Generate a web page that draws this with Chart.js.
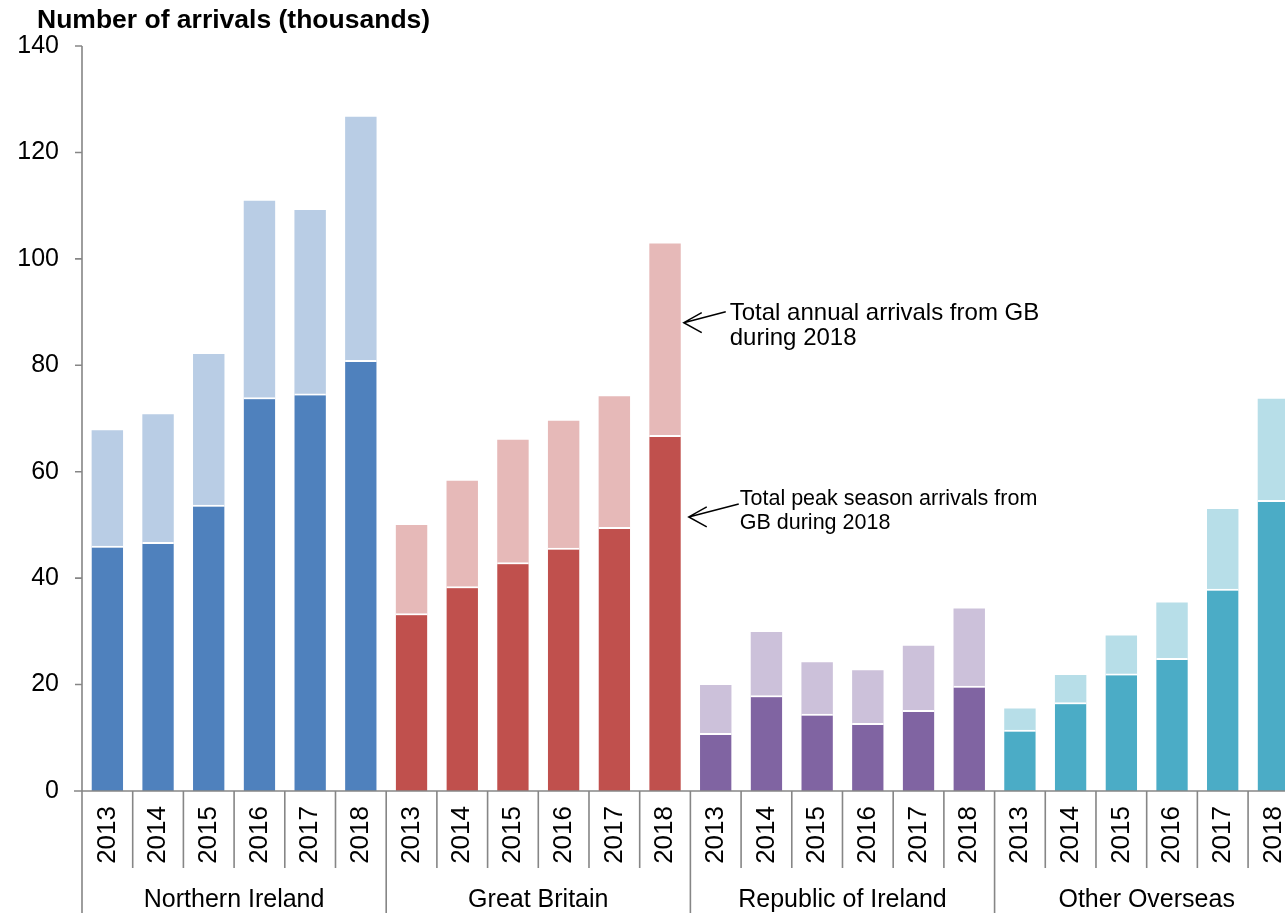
<!DOCTYPE html>
<html>
<head>
<meta charset="utf-8">
<title>Number of arrivals</title>
<script src="https://cdn.jsdelivr.net/npm/chart.js@4"></script>
<style>
  html, body { margin: 0; padding: 0; background: #fff; overflow: hidden; }
  canvas { display: block; }
</style>
</head>
<body>
<canvas id="grafico" width="1320" height="913"></canvas>
<script>
// 1. Datos (miles de llegadas)
const years = ['2013', '2014', '2015', '2016', '2017', '2018'];
const groups = ['Northern Ireland', 'Great Britain', 'Republic of Ireland', 'Other Overseas'];

const peakNI = [46.1, 46.8, 53.8, 74.0, 74.7, 81.0];
const totalNI = [67.8, 70.8, 82.1, 110.9, 109.2, 126.7];
const peakGB = [33.4, 38.5, 43.0, 45.7, 49.6, 66.9];
const totalGB = [50.0, 58.3, 66.0, 69.6, 74.2, 102.9];
const peakROI = [10.9, 18.0, 14.5, 12.8, 15.2, 19.8];
const totalROI = [19.9, 29.9, 24.2, 22.7, 27.3, 34.3];
const peakOO = [11.5, 16.7, 22.1, 25.0, 38.0, 54.7];
const totalOO = [15.5, 21.8, 29.2, 35.4, 53.0, 73.7];

const yTicks = [0, 20, 40, 60, 80, 100, 120, 140];

const yTitle = 'Number of arrivals (thousands)';
const noteAnnual = ['Total annual arrivals from GB', 'during 2018'];
const notePeak = ['Total peak season arrivals from', 'GB during 2018'];
const noteAnnualValue = 88;
const notePeakValue = 51.5;

// 2. Colores por grupo (oscuro = temporada alta, claro = total)
const darkColors = ['#4F81BD', '#C0504D', '#8064A2', '#4BACC6'];
const lightColors = ['#B9CDE5', '#E6B9B8', '#CCC1DA', '#B7DEE8'];

const FONT = '"Liberation Sans", Arial, sans-serif';
const AXIS = '#868686';

// 3. Series completas
const labels = groups.flatMap(() => years);
const peak = [...peakNI, ...peakGB, ...peakROI, ...peakOO];
const total = [...totalNI, ...totalGB, ...totalROI, ...totalOO];
const groupOf = labels.map((_, i) => Math.floor(i / years.length));

// 4. Flecha con punta abierta
function flecha(ctx, x0, y0, x1, y1) {
    ctx.beginPath();
    ctx.moveTo(x0, y0);
    ctx.lineTo(x1, y1);
    ctx.moveTo(x1 + 18, y1 - 10);
    ctx.lineTo(x1, y1);
    ctx.lineTo(x1 + 18, y1 + 10);
    ctx.stroke();
}

// 5. Plugin: ejes, separadores, grupos, titulo y notas
const extras = {
    id: 'extras',
    afterDraw(chart) {
        const { ctx, chartArea: a, scales: { x, y } } = chart;
        const H = chart.height;
        ctx.save();

        // ejes y marcas
        ctx.strokeStyle = AXIS;
        ctx.lineWidth = 1.6;
        ctx.beginPath();
        ctx.moveTo(a.left, a.top);
        ctx.lineTo(a.left, H);
        yTicks.forEach(v => {
            const py = y.getPixelForValue(v);
            ctx.moveTo(a.left - 7, py);
            ctx.lineTo(a.left, py);
        });
        ctx.moveTo(a.left - 8, a.bottom);
        ctx.lineTo(a.right, a.bottom);
        for (let i = 1; i < labels.length; i++) {
            const px = (x.getPixelForTick(i - 1) + x.getPixelForTick(i)) / 2;
            const end = i % years.length === 0 ? H : a.bottom + 77;
            ctx.moveTo(px, a.bottom);
            ctx.lineTo(px, end);
        }
        ctx.stroke();

        // nombres de grupo
        ctx.fillStyle = '#000';
        ctx.font = '25px ' + FONT;
        ctx.textAlign = 'center';
        ctx.textBaseline = 'alphabetic';
        groups.forEach((g, k) => {
            const first = x.getPixelForTick(k * years.length);
            const last = x.getPixelForTick(k * years.length + years.length - 1);
            ctx.fillText(g, (first + last) / 2, 907);
        });

        // titulo del eje
        ctx.textAlign = 'left';
        ctx.font = 'bold 26.5px ' + FONT;
        ctx.fillText(yTitle, 37, 28);

        // notas con flecha sobre GB 2018
        const bar = chart.getDatasetMeta(1).data[2 * years.length - 1];
        const right = bar.x + bar.width / 2;
        ctx.strokeStyle = '#000';
        ctx.lineWidth = 1.5;

        const t1x = right + 3;
        const t1y = y.getPixelForValue(noteAnnualValue);
        flecha(ctx, t1x + 42, t1y - 11, t1x, t1y);
        ctx.font = '24px ' + FONT;
        ctx.fillText(noteAnnual[0], t1x + 46, t1y - 3);
        ctx.fillText(noteAnnual[1], t1x + 46, t1y + 22);

        const t2x = right + 8;
        const t2y = y.getPixelForValue(notePeakValue);
        flecha(ctx, t2x + 50, t2y - 13, t2x, t2y);
        ctx.font = '21.5px ' + FONT;
        ctx.fillText(notePeak[0], t2x + 51, t2y - 12);
        ctx.fillText(notePeak[1], t2x + 51, t2y + 12);

        ctx.restore();
    }
};

// 6. Grafico de barras superpuestas
const ctx = document.getElementById('grafico').getContext('2d');
const grafico = new Chart(ctx, {
    type: 'bar',
    data: {
        labels: labels,
        datasets: [{
            label: 'Peak season',
            data: peak,
            backgroundColor: groupOf.map(g => darkColors[g]),
            borderColor: '#ffffff',
            borderWidth: { top: 2, right: 0, bottom: 0, left: 0 },
            borderSkipped: 'bottom',
            grouped: false,
            order: 0
        }, {
            label: 'Annual total',
            data: total,
            backgroundColor: groupOf.map(g => lightColors[g]),
            borderWidth: 0,
            grouped: false,
            order: 1
        }]
    },
    options: {
        responsive: false,
        animation: false,
        events: [],
        layout: { padding: { top: 46, right: 18, bottom: 0, left: 0 } },
        datasets: { bar: { barPercentage: 0.62, categoryPercentage: 1 } },
        plugins: { legend: { display: false }, tooltip: { enabled: false } },
        scales: {
            x: {
                offset: true,
                grid: { display: false, drawTicks: false },
                border: { display: false },
                ticks: {
                    autoSkip: false,
                    minRotation: 90,
                    maxRotation: 90,
                    padding: 15,
                    color: '#000',
                    font: { family: FONT, size: 26 }
                },
                afterFit(scale) { scale.height = 122; }
            },
            y: {
                min: 0,
                max: 140,
                grid: { display: false, drawTicks: false },
                border: { display: false },
                ticks: {
                    padding: 23,
                    color: '#000',
                    font: { family: FONT, size: 25 }
                },
                afterBuildTicks(scale) { scale.ticks = yTicks.map(v => ({ value: v })); },
                afterFit(scale) { scale.width = 82; }
            }
        }
    },
    plugins: [extras]
});
</script>
</body>
</html>
